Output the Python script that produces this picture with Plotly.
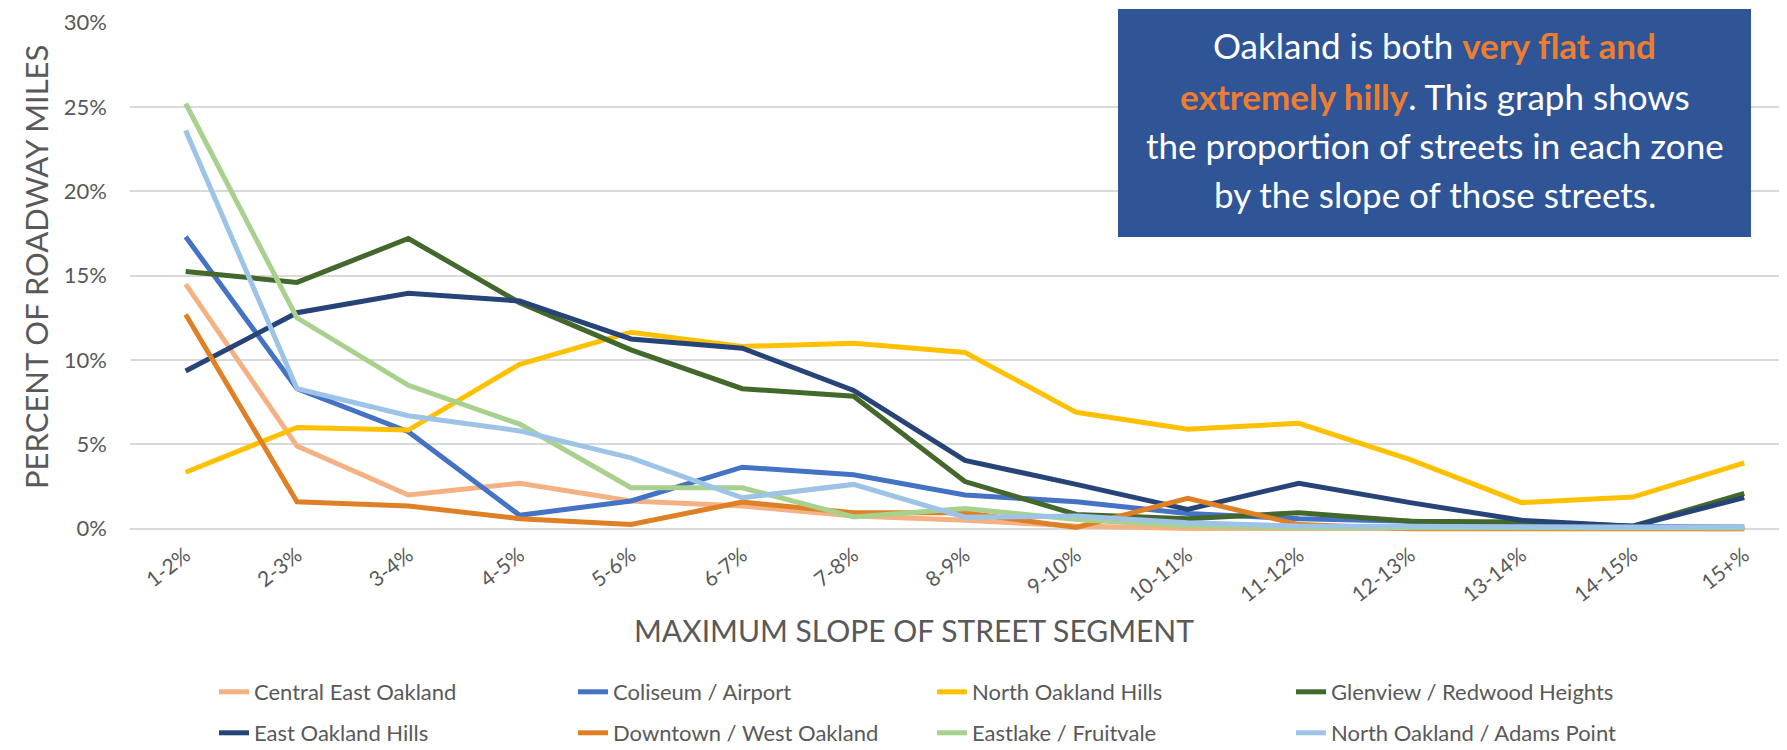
import plotly.graph_objects as go

categories = ["1-2%", "2-3%", "3-4%", "4-5%", "5-6%", "6-7%", "7-8%", "8-9%",
              "9-10%", "10-11%", "11-12%", "12-13%", "13-14%", "14-15%", "15+%"]

central_east_oakland = [14.5, 4.9, 2.0, 2.7, 1.65, 1.35, 0.75, 0.5, 0.16, 0.02, 0.02, 0.0, 0.0, 0.0, 0.0]
coliseum_airport = [17.3, 8.3, 5.75, 0.8, 1.65, 3.65, 3.2, 2.0, 1.6, 0.9, 0.6, 0.45, 0.3, 0.15, 0.1]
north_oakland_hills = [3.35, 6.0, 5.85, 9.75, 11.65, 10.8, 11.0, 10.45, 6.9, 5.9, 6.25, 4.1, 1.55, 1.88, 3.9]
glenview_redwood = [15.25, 14.6, 17.2, 13.4, 10.6, 8.3, 7.85, 2.8, 0.85, 0.6, 0.95, 0.45, 0.4, 0.15, 2.1]
east_oakland_hills = [9.35, 12.8, 13.95, 13.5, 11.25, 10.7, 8.2, 4.05, 2.63, 1.15, 2.7, 1.55, 0.5, 0.15, 1.85]
downtown_west = [12.7, 1.6, 1.35, 0.6, 0.26, 1.58, 0.95, 0.95, 0.08, 1.8, 0.25, 0.0, 0.0, 0.0, 0.0]
eastlake_fruitvale = [25.2, 12.5, 8.5, 6.2, 2.43, 2.43, 0.7, 1.2, 0.55, 0.16, 0.06, 0.05, 0.05, 0.05, 0.05]
north_oakland_adams = [23.6, 8.3, 6.7, 5.8, 4.2, 1.84, 2.63, 0.69, 0.75, 0.36, 0.16, 0.12, 0.1, 0.1, 0.12]

y_ticks = [0, 5, 10, 15, 20, 25, 30]
y_tick_labels = ["0%", "5%", "10%", "15%", "20%", "25%", "30%"]

series = [
    ("Central East Oakland", central_east_oakland, "#F4B183", "legend"),
    ("Coliseum / Airport", coliseum_airport, "#4472C4", "legend"),
    ("North Oakland Hills", north_oakland_hills, "#FFC000", "legend"),
    ("Glenview / Redwood Heights", glenview_redwood, "#43682B", "legend"),
    ("East Oakland Hills", east_oakland_hills, "#264478", "legend2"),
    ("Downtown / West Oakland", downtown_west, "#DF8027", "legend2"),
    ("Eastlake / Fruitvale", eastlake_fruitvale, "#A9D18E", "legend2"),
    ("North Oakland / Adams Point", north_oakland_adams, "#9DC3E6", "legend2"),
]

FONT = "Lato, 'Open Sans', sans-serif"
GREY = "#595959"

fig = go.Figure()
for name, vals, color, lg in series:
    fig.add_trace(go.Scatter(
        x=categories, y=vals, name=name, mode="lines",
        line=dict(color=color, width=5),
        legend=lg,
    ))

W, H = 1787, 750
L, R, T, B = 122, 0, 14, 225
plot_w = W - L - R
plot_h = H - T - B


def px_x(x):
    return (x - L) / plot_w


def px_y(y):
    return (H - B - y) / plot_h


legend_common = dict(
    orientation="h",
    font=dict(family=FONT, size=22, color=GREY),
    bgcolor="rgba(0,0,0,0)",
    entrywidth=314,
    entrywidthmode="pixels",
    xanchor="left",
    yanchor="middle",
    itemclick=False,
)

fig.update_layout(
    width=W, height=H,
    margin=dict(l=L, r=R, t=T, b=B, pad=0),
    paper_bgcolor="white",
    plot_bgcolor="white",
    font=dict(family=FONT, color=GREY),
    legend=dict(x=px_x(206), y=px_y(684), **legend_common),
    legend2=dict(x=px_x(206), y=px_y(725), **legend_common),
    xaxis=dict(
        type="category",
        range=[-0.5, 14.456],
        showgrid=False,
        showline=False,
        zeroline=False,
        tickangle=-38,
        tickfont=dict(family=FONT, size=21, color=GREY),
        ticks="",
        ticklabelstandoff=5,
    ),
    yaxis=dict(
        range=[-0.25, 30.03],
        tickvals=y_ticks,
        ticktext=y_tick_labels,
        showgrid=True,
        gridcolor="#D9D9D9",
        gridwidth=1.5,
        zeroline=False,
        showline=False,
        ticks="",
        ticklabelstandoff=22,
        tickfont=dict(family=FONT, size=22, color=GREY),
    ),
)

# axis titles
fig.add_annotation(
    text="MAXIMUM SLOPE OF STREET SEGMENT", xref="paper", yref="paper",
    x=px_x(906), y=px_y(622), showarrow=False, xanchor="center", yanchor="middle",
    font=dict(family=FONT, size=30, color=GREY),
)
fig.add_annotation(
    text="PERCENT OF ROADWAY MILES", xref="paper", yref="paper",
    x=px_x(28), y=px_y(259), showarrow=False, xanchor="center", yanchor="middle",
    textangle=-90, font=dict(family=FONT, size=31, color=GREY),
)

# callout box
fig.add_shape(
    type="rect", xref="paper", yref="paper",
    x0=px_x(1110), x1=px_x(1743), y0=px_y(1), y1=px_y(229),
    fillcolor="#2F5597", line=dict(width=0), layer="above",
)
ORANGE = "#ED7D31"
box_lines = [
    ("Oakland is both <b><span style='color:%s'>very flat and</span></b>" % ORANGE, 37),
    ("<b><span style='color:%s'>extremely hilly</span></b>. This graph shows" % ORANGE, 88),
    ("the proportion of streets in each zone", 137),
    ("by the slope of those streets.", 186),
]
for txt, yy in box_lines:
    fig.add_annotation(
        text=txt, xref="paper", yref="paper",
        x=px_x(1426.5), y=px_y(yy), showarrow=False,
        xanchor="center", yanchor="middle",
        font=dict(family=FONT, size=35, color="white"),
    )

fig.write_html("out.html")
